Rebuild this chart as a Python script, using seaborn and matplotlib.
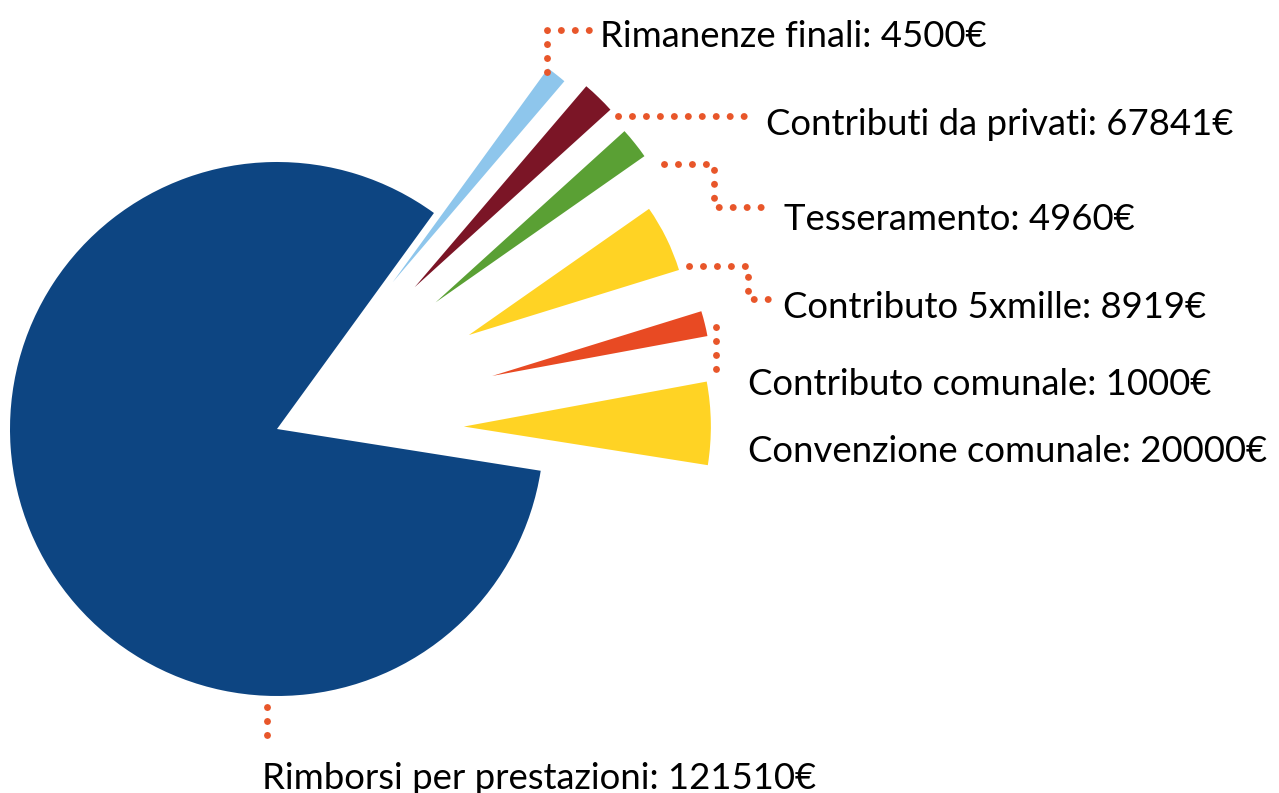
import matplotlib.pyplot as plt
import seaborn as sns

sns.set_theme(style="white")
plt.rcParams["font.family"] = ["Lato", "DejaVu Sans"]

# entrate del bilancio
voci = ["Convenzione comunale", "Contributo comunale", "Contributo 5xmille",
        "Tesseramento", "Contributi da privati", "Rimanenze finali",
        "Rimborsi per prestazioni"]
importi = [20000, 1000, 8919, 4960, 67841, 4500, 121510]
# ampiezza degli spicchi come appare nel grafico (gradi)
gradi = [19.5, 6.7, 17.8, 7.2, 7.3, 4.5, 297]

colori = ["#FFD324", "#E84A23", "#FFD324", "#5AA034", "#7B1526", "#8EC6EC", "#0D4582"]
esplodi = [0.70, 0.83, 0.80, 0.76, 0.74, 0.70, 0]   # frazione del raggio
scala = [0.925, 0.82, 0.824, 0.955, 0.99, 0.99, 1]
arancio = "#E8562A"

fig = plt.figure(figsize=(12.79, 7.93), dpi=100)
ax = fig.add_axes([0, 0, 1, 1])
H = 793
R = 267

wedges, _ = ax.pie(gradi, colors=colori, explode=[e * R for e in esplodi],
                   startangle=-9, radius=R, center=(277, H - 429),
                   wedgeprops=dict(linewidth=0))
for w, s in zip(wedges, scala):
    w.set_radius(w.r * s)

ax.set_xlim(0, 1279)
ax.set_ylim(0, H)
ax.set_aspect("equal")
ax.axis("off")

# posizione delle etichette (x sinistra, linea di base) in pixel
pos_etichette = [(748, 462), (748, 395), (783, 318), (784, 230),
                 (766, 135), (600, 47), (262, 789)]
for voce, importo, (x, y) in zip(voci, importi, pos_etichette):
    ax.text(x, H - y, f"{voce}: {importo}€", fontsize=26.3, color="black",
            ha="left", va="baseline")

# linee di richiamo tratteggiate
richiami = [
    [(547, 72), (547, 30), (592, 30)],
    [(618, 116), (747, 116)],
    [(664, 164), (714, 164), (714, 207), (766, 207)],
    [(689, 266), (748, 266), (748, 299), (774, 299)],
    [(716, 327), (716, 374)],
    [(267, 707), (267, 748)],
]
for pts in richiami:
    xs = [p[0] for p in pts]
    ys = [H - p[1] for p in pts]
    ax.plot(xs, ys, color=arancio, lw=5, linestyle=(0, (0.01, 2.0)),
            dash_capstyle="round")

fig.savefig("out.png", dpi=100)
